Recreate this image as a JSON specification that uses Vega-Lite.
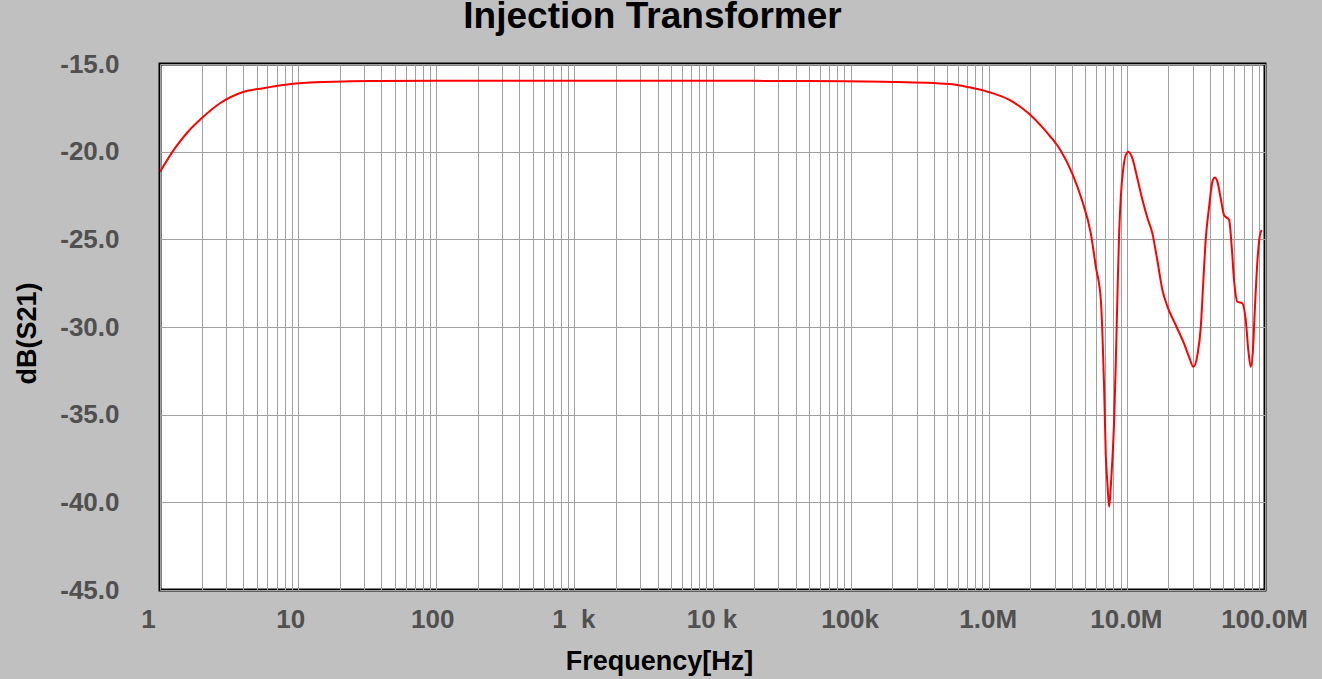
{
  "$schema": "https://vega.github.io/schema/vega-lite/v6.json",
  "autosize": {"type": "none"},
  "padding": {"left": 160, "top": 64, "right": 57, "bottom": 89},
  "width": 1105,
  "height": 526,
  "background": "#c0c0c0",
  "title": {
    "text": "Injection Transformer",
    "font": "Liberation Sans",
    "fontSize": 37,
    "fontWeight": "bold",
    "color": "#000000",
    "anchor": "middle",
    "dx": -60,
    "dy": 36,
    "baseline": "alphabetic",
    "offset": 22
  },
  "data": {
    "values": [
      {"f": 1, "db": -21.15},
      {"f": 1.284, "db": -19.8},
      {"f": 1.56, "db": -18.95},
      {"f": 2, "db": -18.1},
      {"f": 2.72, "db": -17.24},
      {"f": 4, "db": -16.6},
      {"f": 5.6, "db": -16.38},
      {"f": 7.8, "db": -16.2},
      {"f": 12.2, "db": -16.06},
      {"f": 23.7, "db": -15.99},
      {"f": 39, "db": -15.97},
      {"f": 100, "db": -15.96},
      {"f": 1000, "db": -15.96},
      {"f": 10000, "db": -15.96},
      {"f": 50000, "db": -15.97},
      {"f": 200000, "db": -16.02},
      {"f": 518000, "db": -16.14},
      {"f": 723000, "db": -16.33},
      {"f": 980000, "db": -16.58},
      {"f": 1410000, "db": -17.05},
      {"f": 1940000, "db": -17.81},
      {"f": 2450000, "db": -18.61},
      {"f": 2800000, "db": -19.15},
      {"f": 3300000, "db": -19.9},
      {"f": 4040000, "db": -21.28},
      {"f": 4700000, "db": -22.7},
      {"f": 5480000, "db": -24.66},
      {"f": 5960000, "db": -26.56},
      {"f": 6480000, "db": -28.46},
      {"f": 6650000, "db": -30.36},
      {"f": 6840000, "db": -33.4},
      {"f": 7030000, "db": -37.2},
      {"f": 7230000, "db": -38.92},
      {"f": 7440000, "db": -40.25},
      {"f": 7650000, "db": -39.1},
      {"f": 7870000, "db": -37.4},
      {"f": 8090000, "db": -35.3},
      {"f": 8320000, "db": -31.9},
      {"f": 8550000, "db": -28.1},
      {"f": 8790000, "db": -24.66},
      {"f": 9040000, "db": -22.57},
      {"f": 9390000, "db": -21.05},
      {"f": 9830000, "db": -20.19},
      {"f": 10260000, "db": -20.0},
      {"f": 10960000, "db": -20.38},
      {"f": 11900000, "db": -21.52},
      {"f": 12970000, "db": -22.76},
      {"f": 14100000, "db": -23.8},
      {"f": 15300000, "db": -24.66},
      {"f": 16600000, "db": -26.18},
      {"f": 18100000, "db": -27.9},
      {"f": 19700000, "db": -28.85},
      {"f": 22600000, "db": -29.9},
      {"f": 25900000, "db": -30.94},
      {"f": 28200000, "db": -31.7},
      {"f": 30300000, "db": -32.27},
      {"f": 32400000, "db": -31.6},
      {"f": 34300000, "db": -29.98},
      {"f": 35600000, "db": -27.7},
      {"f": 37200000, "db": -25.04},
      {"f": 39400000, "db": -23.14},
      {"f": 41600000, "db": -21.71},
      {"f": 43300000, "db": -21.47},
      {"f": 45200000, "db": -21.71},
      {"f": 47800000, "db": -22.66},
      {"f": 50500000, "db": -23.61},
      {"f": 55000000, "db": -23.9},
      {"f": 57400000, "db": -25.42},
      {"f": 59700000, "db": -27.32},
      {"f": 63100000, "db": -28.56},
      {"f": 68600000, "db": -28.65},
      {"f": 72500000, "db": -29.6},
      {"f": 75700000, "db": -31.3},
      {"f": 78700000, "db": -32.27},
      {"f": 81800000, "db": -31.3},
      {"f": 84600000, "db": -28.85},
      {"f": 87900000, "db": -26.37},
      {"f": 91500000, "db": -24.85},
      {"f": 94600000, "db": -24.47}
    ]
  },
  "mark": {"type": "line", "color": "#ff0000", "strokeWidth": 2, "interpolate": "monotone", "clip": true},
  "encoding": {
    "x": {
      "field": "f",
      "type": "quantitative",
      "scale": {"type": "log", "domain": [1, 100000000], "nice": false},
      "axis": {
        "title": "Frequency[Hz]",
        "titleFont": "Liberation Sans",
        "titleFontSize": 27,
        "titleFontWeight": "bold",
        "titleColor": "#000000",
        "titleX": 499,
        "titleY": 58,
        "titleAlign": "center",
        "titleBaseline": "top",
        "values": [1,2,3,4,5,6,7,8,9,10,20,30,40,50,60,70,80,90,100,200,300,400,500,600,700,800,900,1000,2000,3000,4000,5000,6000,7000,8000,9000,10000,20000,30000,40000,50000,60000,70000,80000,90000,100000,200000,300000,400000,500000,600000,700000,800000,900000,1000000,2000000,3000000,4000000,5000000,6000000,7000000,8000000,9000000,10000000,20000000,30000000,40000000,50000000,60000000,70000000,80000000,90000000,100000000],
        "labelExpr": "datum.value == 1 ? '1' : datum.value == 10 ? '10' : datum.value == 100 ? '100' : datum.value == 1000 ? '1\u00a0\u00a0k' : datum.value == 10000 ? '10\u00a0k' : datum.value == 100000 ? '100k' : datum.value == 1000000 ? '1.0M' : datum.value == 10000000 ? '10.0M' : datum.value == 100000000 ? '100.0M' : ''",
        "labelOffset": {
          "condition": [
            {"test": "datum.value == 1", "value": -12},
            {"test": "datum.value == 10", "value": -8},
            {"test": "datum.value == 100", "value": -4}
          ],
          "value": -1
        },
        "labelOverlap": false,
        "labelFlush": false,
        "labelBound": false,
        "labelFont": "Liberation Sans",
        "labelFontSize": 26,
        "labelFontWeight": "bold",
        "labelColor": "#505050",
        "labelPadding": 16,
        "labelBaseline": "top",
        "ticks": false,
        "domain": false,
        "grid": true,
        "gridColor": "#a0a0a0",
        "gridWidth": 1,
        "gridOpacity": 1
      }
    },
    "y": {
      "field": "db",
      "type": "quantitative",
      "scale": {"domain": [-45, -15], "nice": false, "zero": false},
      "axis": {
        "title": "dB(S21)",
        "titleFont": "Liberation Sans",
        "titleFontSize": 27,
        "titleFontWeight": "bold",
        "titleColor": "#000000",
        "titleAngle": -90,
        "titleX": -133,
        "titleY": 269,
        "titleAlign": "center",
        "titleBaseline": "middle",
        "values": [-45, -40, -35, -30, -25, -20, -15],
        "labelExpr": "'-' + format(abs(datum.value), '.1f')",
        "labelOverlap": false,
        "labelFlush": false,
        "labelBound": false,
        "labelFont": "Liberation Sans",
        "labelFontSize": 26,
        "labelFontWeight": "bold",
        "labelColor": "#505050",
        "labelPadding": 41,
        "ticks": false,
        "domain": false,
        "grid": true,
        "gridColor": "#a0a0a0",
        "gridWidth": 1,
        "gridOpacity": 1
      }
    }
  },
  "config": {
    "view": {"stroke": "#000000", "strokeWidth": 3, "fill": "#ffffff"}
  }
}
